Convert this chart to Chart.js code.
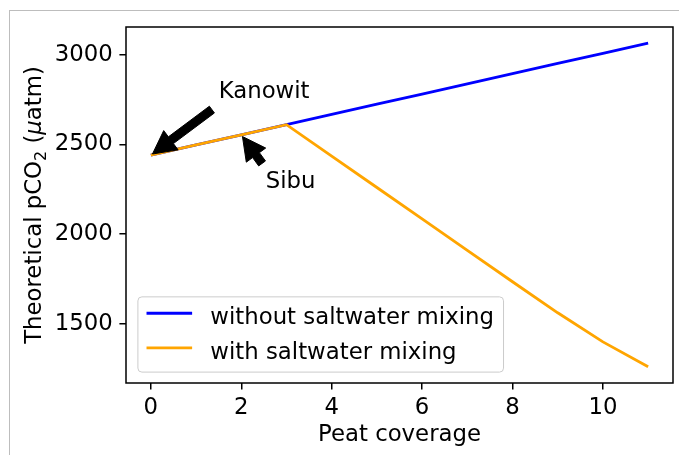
<!DOCTYPE html>
<html>
<head>
<meta charset="utf-8">
<script src="https://cdn.jsdelivr.net/npm/chart.js@4.4.1/dist/chart.umd.min.js"></script>
<style>
  html, body { margin: 0; padding: 0; background: #fff; }
  #wrap { position: relative; width: 679px; height: 455px; overflow: hidden; }
  #frame { position: absolute; left: 9px; top: 10px; right: -5px; bottom: -5px;
           border-left: 1px solid #bdbdbd; border-top: 1px solid #bdbdbd; }
  canvas { position: absolute; left: 0; top: 0; }
</style>
</head>
<body>
<div id="wrap">
  <div id="frame"></div>
  <canvas id="pco2-chart" width="679" height="455"></canvas>
</div>
<script>
// peat coverage vs theoretical pCO2
const peatCoverage = [0, 1, 2, 3, 4, 5, 6, 7, 8, 9, 10, 11];
const withoutMixing = [2440, 2497, 2553, 2610, 2667, 2724, 2780, 2837, 2894, 2951, 3007, 3064];
const withMixing = [2440, 2497, 2553, 2610, 2435, 2260, 2085, 1910, 1735, 1562, 1400, 1261];
const seriesLabels = ['without saltwater mixing', 'with saltwater mixing'];
const seriesColors = ['#0000ff', '#ffa500'];

const xTicks = [0, 2, 4, 6, 8, 10];
const yTicks = [1500, 2000, 2500, 3000];
const xRange = [-0.55, 11.55];
const yRange = [1171, 3154];

// labelled sites, pointing at points of the first series
const siteNames = ['Kanowit', 'Sibu'];
const siteIndex = [0, 2];
const siteTextX = [1.5, 2.54];
const siteTextY = [2758, 2255];
const siteTailX = [1.35, 2.46];
const siteTailY = [2694, 2394];

const FAMILY = '"DejaVu Sans", sans-serif';
const EM = 22.8;

function toPoints(ys) {
  return peatCoverage.map((x, i) => ({ x: x, y: ys[i] }));
}

function drawArrow(ctx, x0, y0, x1, y1) {
  const len = Math.hypot(x1 - x0, y1 - y0);
  const ux = (x1 - x0) / len, uy = (y1 - y0) / len;
  const nx = -uy, ny = ux;
  const shaft = 4.2, head = 12, headLen = 23;
  const bx = x1 - ux * headLen, by = y1 - uy * headLen;
  ctx.beginPath();
  ctx.moveTo(x0 + nx * shaft, y0 + ny * shaft);
  ctx.lineTo(bx + nx * shaft, by + ny * shaft);
  ctx.lineTo(bx + nx * head, by + ny * head);
  ctx.lineTo(x1, y1);
  ctx.lineTo(bx - nx * head, by - ny * head);
  ctx.lineTo(bx - nx * shaft, by - ny * shaft);
  ctx.lineTo(x0 - nx * shaft, y0 - ny * shaft);
  ctx.closePath();
  ctx.fill();
  ctx.stroke();
}

const decorations = {
  id: 'decorations',
  afterDatasetsDraw(chart) {
    const { ctx, chartArea: a, scales: { x, y } } = chart;
    ctx.save();

    // axes box
    ctx.strokeStyle = '#000';
    ctx.lineWidth = 1.5;
    ctx.strokeRect(a.left, a.top, a.right - a.left, a.bottom - a.top);

    // site annotations
    ctx.fillStyle = '#000';
    ctx.lineWidth = 1;
    ctx.font = EM + 'px ' + FAMILY;
    ctx.textAlign = 'left';
    ctx.textBaseline = 'alphabetic';
    siteNames.forEach((name, i) => {
      const px = x.getPixelForValue(peatCoverage[siteIndex[i]]);
      const py = y.getPixelForValue(withoutMixing[siteIndex[i]]);
      const tx = x.getPixelForValue(siteTailX[i]);
      const ty = y.getPixelForValue(siteTailY[i]);
      const d = Math.hypot(tx - px, ty - py);
      const sx = px + (tx - px) * 2 / d, sy = py + (ty - py) * 2 / d;
      drawArrow(ctx, tx, ty, sx, sy);
      ctx.fillText(name, x.getPixelForValue(siteTextX[i]), y.getPixelForValue(siteTextY[i]));
    });

    // legend, lower left inside the axes
    ctx.font = EM + 'px ' + FAMILY;
    const textW = Math.max(...seriesLabels.map(s => ctx.measureText(s).width));
    const left = a.left + 0.5 * EM;
    const bottom = a.bottom - 0.5 * EM;
    const w = 0.4 * EM + 2 * EM + 0.8 * EM + textW + 0.4 * EM;
    const h = 3.3 * EM;
    ctx.beginPath();
    ctx.roundRect(left + 0.5, bottom - h + 0.5, w, h, 4);
    ctx.fillStyle = 'rgba(255,255,255,0.8)';
    ctx.fill();
    ctx.strokeStyle = '#cccccc';
    ctx.lineWidth = 1;
    ctx.stroke();
    const baselines = [bottom - 2.08 * EM, bottom - 0.56 * EM];
    seriesLabels.forEach((label, i) => {
      const hx = left + 0.4 * EM;
      const hy = baselines[i] - 0.48 * EM;
      ctx.strokeStyle = seriesColors[i];
      ctx.lineWidth = 2.85;
      ctx.beginPath();
      ctx.moveTo(hx, hy);
      ctx.lineTo(hx + 2 * EM, hy);
      ctx.stroke();
      ctx.fillStyle = '#000';
      ctx.fillText(label, hx + 2.8 * EM, baselines[i]);
    });
    ctx.restore();
  },
  afterDraw(chart) {
    const { ctx, chartArea: a } = chart;
    ctx.save();
    ctx.fillStyle = '#000';
    ctx.textBaseline = 'alphabetic';

    // x axis title
    ctx.font = EM + 'px ' + FAMILY;
    ctx.textAlign = 'center';
    ctx.fillText('Peat coverage', (a.left + a.right) / 2, 441);

    // y axis title with subscript and italic mu
    const parts = [
      { t: 'Theoretical pCO', f: EM + 'px ' + FAMILY, dy: 0 },
      { t: '2', f: (EM * 0.7) + 'px ' + FAMILY, dy: 4.5 },
      { t: ' (', f: EM + 'px ' + FAMILY, dy: 0 },
      { t: 'μ', f: 'italic ' + EM + 'px ' + FAMILY, dy: 0 },
      { t: 'atm)', f: EM + 'px ' + FAMILY, dy: 0 }
    ];
    let total = 0;
    parts.forEach(p => { ctx.font = p.f; p.w = ctx.measureText(p.t).width; total += p.w; });
    ctx.translate(41, (a.top + a.bottom) / 2);
    ctx.rotate(-Math.PI / 2);
    ctx.textAlign = 'left';
    let cx = -total / 2;
    parts.forEach(p => {
      ctx.font = p.f;
      ctx.fillText(p.t, cx, p.dy);
      cx += p.w;
    });
    ctx.restore();
  }
};

const tickFont = { family: FAMILY, size: EM };
const tickGrid = { drawOnChartArea: false, drawTicks: true, tickLength: 6.6, color: '#000', lineWidth: 1.5 };

new Chart(document.getElementById('pco2-chart').getContext('2d'), {
  type: 'line',
  data: {
    datasets: [
      {
        label: seriesLabels[0],
        data: toPoints(withoutMixing),
        borderColor: seriesColors[0],
        backgroundColor: seriesColors[0],
        borderWidth: 2.85,
        pointRadius: 0,
        tension: 0,
        order: 1
      },
      {
        label: seriesLabels[1],
        data: toPoints(withMixing),
        borderColor: seriesColors[1],
        backgroundColor: seriesColors[1],
        borderWidth: 2.85,
        pointRadius: 0,
        tension: 0,
        order: 0
      }
    ]
  },
  options: {
    responsive: false,
    animation: false,
    layout: { padding: { left: 0, right: 6, top: 27, bottom: 0 } },
    plugins: { legend: { display: false }, tooltip: { enabled: false } },
    scales: {
      x: {
        type: 'linear',
        min: xRange[0],
        max: xRange[1],
        afterBuildTicks: s => { s.ticks = xTicks.map(v => ({ value: v })); },
        afterFit: s => { s.height = 72; },
        border: { display: false },
        grid: tickGrid,
        ticks: { color: '#000', font: tickFont, padding: 5, maxRotation: 0, autoSkip: false, callback: v => String(v) }
      },
      y: {
        type: 'linear',
        min: yRange[0],
        max: yRange[1],
        afterBuildTicks: s => { s.ticks = yTicks.map(v => ({ value: v })); },
        afterFit: s => { s.width = 126; },
        border: { display: false },
        grid: tickGrid,
        ticks: { color: '#000', font: tickFont, padding: 6.6, autoSkip: false, callback: v => String(v) }
      }
    }
  },
  plugins: [decorations]
});
</script>
</body>
</html>
